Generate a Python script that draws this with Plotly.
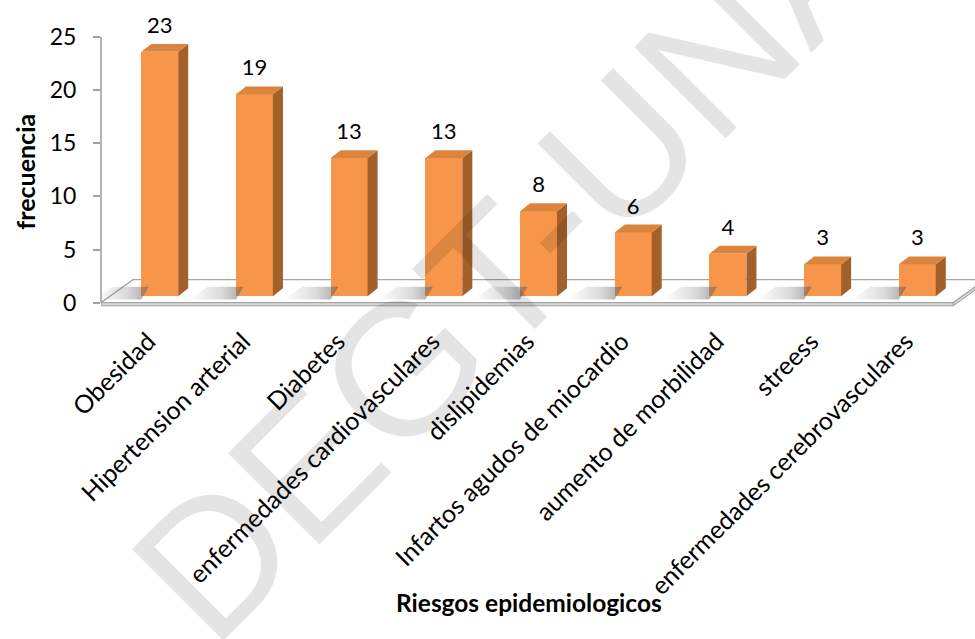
import plotly.graph_objects as go

# ---------------- data ----------------
categories = ["Obesidad", "Hipertension arterial", "Diabetes",
              "enfermedades cardiovasculares", "dislipidemias",
              "Infartos agudos de miocardio", "aumento de morbilidad",
              "streess", "enfermedades cerebrovasculares"]
values = [23, 19, 13, 13, 8, 6, 4, 3, 3]
y_ticks = [0, 5, 10, 15, 20, 25]
x_title = "Riesgos epidemiologicos"
y_title = "frecuencia"
watermark = "DEGT-UNA"

# ---------------- style / 3-D geometry ----------------
FONT = "Lato"
FRONT = "#F7964A"
SIDE = "#A4602A"
TOP = "#DB843E"
BAR_W = 0.39          # width of bar front (category units)
BAR_SHIFT = 0.12      # bar front centre offset from slot centre
BAR_BASE = 0.6        # bar base lift (depth projection)
SIDE_DU, SIDE_DV = 0.106, 0.75     # bar depth projection
FLOOR_DU, FLOOR_DV = 0.338, 2.16   # floor depth projection
SLAB = 0.3

n = len(categories)
centers = [i + 0.5 + BAR_SHIFT for i in range(n)]

fig = go.Figure()

# floor (shapes below traces)
floor_top = (f"M 0,0 L {n},0 L {n + FLOOR_DU},{FLOOR_DV} "
             f"L {FLOOR_DU},{FLOOR_DV} Z")
floor_front = f"M 0,0 L {n},0 L {n},{-SLAB} L 0,{-SLAB} Z"
floor_side = (f"M {n},0 L {n + FLOOR_DU},{FLOOR_DV} "
              f"L {n + FLOOR_DU},{FLOOR_DV - SLAB} L {n},{-SLAB} Z")
shapes = [
    dict(type="path", path=floor_top, xref="x", yref="y", layer="below",
         fillcolor="#FFFFFF", line=dict(color="#A6A6A6", width=1.3)),
    dict(type="path", path=floor_front, xref="x", yref="y", layer="below",
         fillcolor="#D4D4D4", line=dict(color="#A0A0A0", width=1)),
    dict(type="path", path=floor_side, xref="x", yref="y", layer="below",
         fillcolor="#D4D4D4", line=dict(color="#A0A0A0", width=1)),
    # y axis line from first to last tick
    dict(type="line", xref="paper", yref="y", x0=0, x1=0,
         y0=y_ticks[0], y1=y_ticks[-1], line=dict(color="#A0A0A0", width=1.6)),
]

# front faces
fig.add_trace(go.Bar(x=centers, y=values, base=[BAR_BASE] * n, width=BAR_W,
                     marker=dict(color=FRONT, line=dict(width=0)),
                     hoverinfo="skip", showlegend=False))

# shadows on floor
for c in centers:
    xl = c - BAR_W / 2
    xs = [xl - 0.5, xl, xl + 0.08, xl - 0.3, xl - 0.5]
    ys = [0.3, 0.3, 1.5, 1.5, 0.3]
    fig.add_trace(go.Scatter(
        x=xs, y=ys, mode="lines", line=dict(width=0), fill="toself",
        fillgradient=dict(type="horizontal",
                          colorscale=[[0, "rgba(120,120,120,0)"],
                                      [0.6, "rgba(110,110,110,0.25)"],
                                      [1, "rgba(90,90,90,0.55)"]]),
        hoverinfo="skip", showlegend=False))

# side and top faces
for c, v in zip(centers, values):
    xl, xr = c - BAR_W / 2, c + BAR_W / 2
    b, t = BAR_BASE, BAR_BASE + v
    fig.add_trace(go.Scatter(
        x=[xr, xr + SIDE_DU, xr + SIDE_DU, xr, xr],
        y=[b, b + SIDE_DV, t + SIDE_DV, t, b],
        mode="lines", line=dict(width=0), fill="toself", fillcolor=SIDE,
        hoverinfo="skip", showlegend=False))
    fig.add_trace(go.Scatter(
        x=[xl, xr, xr + SIDE_DU, xl + SIDE_DU, xl],
        y=[t, t, t + SIDE_DV, t + SIDE_DV, t],
        mode="lines", line=dict(width=0), fill="toself", fillcolor=TOP,
        hoverinfo="skip", showlegend=False))

# value labels
fig.add_trace(go.Scatter(
    x=centers, y=[v + BAR_BASE + 2.3 for v in values],
    mode="text", text=[str(v) for v in values],
    textfont=dict(family=FONT, size=22, color="#000000"),
    cliponaxis=False, hoverinfo="skip", showlegend=False))

annotations = [
    dict(text=f"<b>{x_title}</b>", xref="paper", yref="paper",
         x=(529 - 101) / 874, y=-(603 - 309.4) / 309.4, showarrow=False,
         xanchor="center", yanchor="middle",
         font=dict(family=FONT, size=24.5, color="#000000")),
    dict(text=f"<b>{y_title}</b>", xref="paper", yref="paper",
         x=-(101 - 25) / 874, y=1 - 172 / 309.4, showarrow=False,
         textangle=-90, xanchor="center", yanchor="middle",
         font=dict(family=FONT, size=25, color="#000000")),
    dict(text=watermark, xref="paper", yref="paper",
         x=(510 - 101) / 874, y=1 - 262 / 309.4, showarrow=False,
         textangle=-45, xanchor="center", yanchor="middle",
         font=dict(family="Liberation Sans", size=188,
                   color="rgba(0,0,0,0.105)")),
]

fig.update_layout(
    width=975, height=639,
    margin=dict(l=101, r=0, t=0, b=329.6, pad=0),
    paper_bgcolor="#FFFFFF", plot_bgcolor="rgba(0,0,0,0)",
    bargap=0, showlegend=False,
    shapes=shapes, annotations=annotations,
    font=dict(family=FONT, color="#000000"),
    xaxis=dict(range=[0, (975 - 101) / 94.7], showgrid=False, zeroline=False,
               showline=False, ticks="outside", ticklen=7,
               tickcolor="rgba(0,0,0,0)",
               tickvals=[i + 0.5 for i in range(n)], ticktext=categories,
               tickangle=-45, tickfont=dict(family=FONT, size=25),
               fixedrange=True),
    yaxis=dict(range=[-0.6, 28.48], showgrid=False, zeroline=False,
               showline=False, tickvals=y_ticks,
               ticks="outside", ticklen=7, tickwidth=1.6, tickcolor="#A0A0A0",
               ticklabelstandoff=12, tickfont=dict(family=FONT, size=23),
               fixedrange=True),
)

fig.write_html("out.html", config={"displayModeBar": False},
               post_script="document.body.style.margin='0px';")
